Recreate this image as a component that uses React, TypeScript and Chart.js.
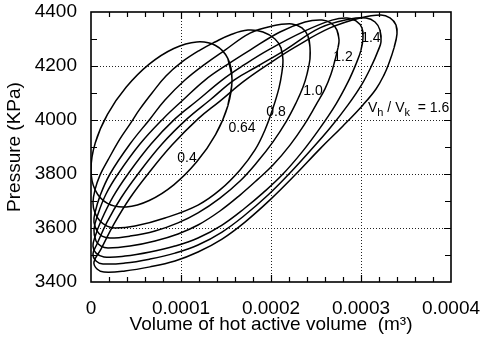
import { useEffect, useRef } from 'react';
import { Chart, registerables } from 'chart.js';

Chart.register(...registerables);

// Volume of hot active volume in units of 1e-4 m^3, pressure in kPa
const VOL_UNIT = 1e-4;
const ratioLabels = ['0.4', '0.64', '0.8', '1.0', '1.2', '1.4', '1.6'];

const v04 = [1.567, 1.52, 1.384, 1.175, 0.92, 0.647, 0.392, 0.183, 0.047, 0, 0.047, 0.183, 0.392, 0.647, 0.92, 1.175, 1.384, 1.52];
const p04 = [4150, 4228, 4276, 4289, 4265, 4207, 4122, 4021, 3915, 3817, 3740, 3691, 3678, 3702, 3760, 3845, 3946, 4052];

const v064 = [2.133, 2.111, 2.044, 1.911, 1.744, 1.544, 1.378, 1.211, 1.011, 0.833, 0.678, 0.544, 0.433, 0.322, 0.189, 0.1, 0.044, 0.022, 0.044, 0.1, 0.178, 0.267, 0.489, 0.822, 1.189, 1.433, 1.656, 1.822, 1.933, 2.022, 2.089, 2.122];
const p064 = [4222, 4267, 4300, 4326, 4333, 4315, 4289, 4259, 4215, 4163, 4100, 4041, 3985, 3930, 3852, 3796, 3741, 3693, 3656, 3626, 3607, 3600, 3607, 3637, 3685, 3741, 3815, 3889, 3963, 4044, 4119, 4178];

const v08 = [2.433, 2.411, 2.344, 2.233, 2.011, 1.767, 1.489, 1.267, 1.044, 0.822, 0.656, 0.433, 0.211, 0.1, 0.044, 0.033, 0.067, 0.122, 0.211, 0.433, 0.711, 0.967, 1.189, 1.433, 1.656, 1.856, 2.022, 2.167, 2.278, 2.356, 2.4, 2.433];
const p08 = [4270, 4311, 4341, 4356, 4348, 4322, 4259, 4207, 4148, 4074, 4004, 3911, 3800, 3719, 3656, 3622, 3589, 3570, 3563, 3570, 3589, 3619, 3656, 3711, 3774, 3848, 3919, 3993, 4063, 4122, 4170, 4226];

const v10 = [2.756, 2.733, 2.667, 2.567, 2.378, 2.1, 1.767, 1.522, 1.267, 1.022, 0.8, 0.544, 0.3, 0.167, 0.078, 0.033, 0.056, 0.111, 0.189, 0.433, 0.711, 0.967, 1.189, 1.433, 1.656, 1.856, 2.022, 2.211, 2.367, 2.5, 2.6, 2.667, 2.711, 2.744];
const p10 = [4296, 4333, 4359, 4370, 4363, 4326, 4259, 4207, 4148, 4074, 4004, 3911, 3800, 3726, 3652, 3593, 3552, 3533, 3526, 3533, 3552, 3578, 3611, 3663, 3722, 3781, 3833, 3907, 3981, 4056, 4115, 4170, 4222, 4267];

const v12 = [3.022, 3.011, 2.944, 2.844, 2.678, 2.378, 1.967, 1.7, 1.456, 1.189, 0.933, 0.667, 0.411, 0.244, 0.111, 0.044, 0.022, 0.056, 0.144, 0.378, 0.656, 0.933, 1.189, 1.456, 1.711, 1.911, 2.122, 2.344, 2.544, 2.722, 2.856, 2.944, 3.0];
const p12 = [4304, 4341, 4367, 4378, 4370, 4330, 4259, 4204, 4148, 4074, 4004, 3911, 3800, 3715, 3626, 3567, 3533, 3507, 3493, 3496, 3511, 3533, 3563, 3611, 3674, 3730, 3796, 3881, 3970, 4059, 4141, 4207, 4259];

const v14 = [3.222, 3.211, 3.156, 3.056, 2.878, 2.544, 2.156, 1.856, 1.589, 1.322, 1.067, 0.789, 0.522, 0.333, 0.178, 0.067, 0.022, 0.056, 0.133, 0.378, 0.656, 0.933, 1.189, 1.456, 1.711, 1.967, 2.189, 2.433, 2.656, 2.856, 3.011, 3.122, 3.189];
const p14 = [4289, 4333, 4363, 4378, 4374, 4341, 4259, 4200, 4148, 4074, 4004, 3911, 3800, 3711, 3622, 3541, 3504, 3478, 3467, 3470, 3485, 3507, 3537, 3585, 3648, 3722, 3796, 3885, 3970, 4056, 4133, 4204, 4256];

const v16 = [3.4, 3.389, 3.322, 3.222, 2.989, 2.656, 2.267, 1.989, 1.7, 1.433, 1.189, 0.9, 0.633, 0.433, 0.256, 0.111, 0.033, 0.067, 0.144, 0.378, 0.656, 0.933, 1.189, 1.456, 1.711, 1.989, 2.267, 2.544, 2.8, 3.022, 3.167, 3.256, 3.311, 3.367];
const p16 = [4319, 4352, 4378, 4389, 4378, 4341, 4270, 4211, 4144, 4070, 4004, 3907, 3800, 3711, 3615, 3522, 3474, 3448, 3437, 3441, 3456, 3478, 3511, 3559, 3622, 3704, 3796, 3893, 3978, 4056, 4115, 4167, 4211, 4267];

const loops = [
  [v04, p04],
  [v064, p064],
  [v08, p08],
  [v10, p10],
  [v12, p12],
  [v14, p14],
  [v16, p16],
];

// curve label anchors (volume 1e-4 m^3, pressure kPa)
const labelV = [1.067, 1.678, 2.056, 2.467, 2.8, 3.11];
const labelP = [3859, 3970, 4030, 4107, 4233, 4304];
const annotV = 3.078;
const annotP = 4030;

const xTicks = [0, 0.0001, 0.0002, 0.0003, 0.0004];
const yTicks = [3400, 3600, 3800, 4000, 4200, 4400];

const FONT = '"Liberation Sans", Arial, Helvetica, sans-serif';

function buildLoop(vs: number[], ps: number[]) {
  const pts = vs.map((v, i) => ({ x: v * VOL_UNIT, y: ps[i] }));
  const n = pts.length;
  return [pts[n - 1], ...pts, pts[0], pts[1]];
}

function zeroPadding(s: any) {
  s.paddingTop = 0;
  s.paddingBottom = 0;
  s.paddingLeft = 0;
  s.paddingRight = 0;
}

const framePlugin = {
  id: 'frame',
  beforeDatasetsDraw(chart: any) {
    const { ctx, chartArea: a, scales } = chart;
    const x = scales.x;
    const y = scales.y;
    ctx.save();
    ctx.strokeStyle = '#222';
    ctx.lineWidth = 1;
    ctx.setLineDash([1, 2]);
    ctx.beginPath();
    for (const v of xTicks.slice(1, -1)) {
      const px = Math.round(x.getPixelForValue(v)) + 0.5;
      ctx.moveTo(px, a.top);
      ctx.lineTo(px, a.bottom);
    }
    for (const v of yTicks.slice(1, -1)) {
      const py = Math.round(y.getPixelForValue(v)) + 0.5;
      ctx.moveTo(a.left, py);
      ctx.lineTo(a.right, py);
    }
    ctx.stroke();
    ctx.setLineDash([]);
    ctx.strokeStyle = '#000';
    ctx.lineWidth = 1.2;
    ctx.beginPath();
    for (let i = 1; i < 20; i++) {
      const px = Math.round(x.getPixelForValue(i * 0.00002)) + 0.5;
      const len = i % 5 === 0 ? 7 : 5;
      ctx.moveTo(px, a.bottom);
      ctx.lineTo(px, a.bottom - len);
      ctx.moveTo(px, a.top);
      ctx.lineTo(px, a.top + len);
    }
    for (let i = 1; i < 10; i++) {
      const py = Math.round(y.getPixelForValue(3400 + i * 100)) + 0.5;
      const len = i % 2 === 0 ? 7 : 6;
      ctx.moveTo(a.left, py);
      ctx.lineTo(a.left + len, py);
      ctx.moveTo(a.right, py);
      ctx.lineTo(a.right - len, py);
    }
    ctx.stroke();
    ctx.lineWidth = 1.6;
    ctx.strokeRect(a.left, a.top, a.right - a.left, a.bottom - a.top);
    ctx.restore();
  },
  afterDatasetsDraw(chart: any) {
    const { ctx, scales } = chart;
    const x = scales.x;
    const y = scales.y;
    ctx.save();
    ctx.fillStyle = '#000';
    ctx.font = `14px ${FONT}`;
    ctx.textAlign = 'center';
    ctx.textBaseline = 'middle';
    labelV.forEach((v, i) => {
      ctx.fillText(ratioLabels[i], x.getPixelForValue(v * VOL_UNIT), y.getPixelForValue(labelP[i]));
    });
    // V_h / V_k = 1.6
    let px = x.getPixelForValue(annotV * VOL_UNIT);
    const py = y.getPixelForValue(annotP);
    ctx.textAlign = 'left';
    ctx.textBaseline = 'alphabetic';
    const part = (t: string, size: number, dy: number) => {
      ctx.font = `${size}px ${FONT}`;
      ctx.fillText(t, px, py + dy);
      px += ctx.measureText(t).width;
    };
    part('V', 14, 0);
    part('h', 11, 4);
    part(' / ', 14, 0);
    part('V', 14, 0);
    part('k', 11, 4);
    part('  = ' + ratioLabels[6], 14, 0);
    ctx.restore();
  },
};

export default function App() {
  const ref = useRef<HTMLCanvasElement>(null);
  useEffect(() => {
    if (!ref.current) return;
    const chart = new Chart(ref.current, {
      type: 'scatter',
      data: {
        datasets: loops.map(([vs, ps], i) => ({
          label: ratioLabels[i],
          data: buildLoop(vs, ps),
          showLine: true,
          borderColor: '#000',
          borderWidth: 1.5,
          pointRadius: 0,
          tension: 0.4,
          fill: false,
        })),
      },
      options: {
        animation: false,
        responsive: false,
        devicePixelRatio: 1,
        layout: { padding: { top: 12, right: 29, left: 0, bottom: 0 } },
        plugins: { legend: { display: false }, tooltip: { enabled: false } },
        scales: {
          x: {
            type: 'linear',
            min: 0,
            max: 0.0004,
            afterBuildTicks: (s: any) => {
              s.ticks = xTicks.map((v) => ({ value: v }));
            },
            afterFit: (s: any) => {
              s.height = 57;
              zeroPadding(s);
            },
            ticks: {
              color: '#000',
              font: { family: FONT, size: 19 },
              padding: 15,
              maxRotation: 0,
              autoSkip: false,
              callback: (v: any) => (Number(v) === 0 ? '0' : Number(v).toFixed(4)),
            },
            grid: { display: false, drawTicks: false },
            border: { display: false },
            title: {
              display: true,
              text: 'Volume of hot active volume  (m³)',
              color: '#000',
              font: { family: FONT, size: 19 },
              padding: { top: 0, bottom: 3 },
            },
          },
          y: {
            type: 'linear',
            min: 3400,
            max: 4400,
            afterBuildTicks: (s: any) => {
              s.ticks = yTicks.map((v) => ({ value: v }));
            },
            afterFit: (s: any) => {
              s.width = 91;
              zeroPadding(s);
            },
            ticks: {
              color: '#000',
              font: { family: FONT, size: 19 },
              padding: 14,
              autoSkip: false,
              callback: (v: any) => String(v),
            },
            grid: { display: false, drawTicks: false },
            border: { display: false },
            title: {
              display: true,
              text: 'Pressure (KPa)',
              color: '#000',
              font: { family: FONT, size: 19 },
              padding: { top: 3, bottom: 0 },
            },
          },
        },
      },
      plugins: [framePlugin],
    });
    return () => chart.destroy();
  }, []);
  return (
    <div style={{ position: 'absolute', left: 0, top: 0, width: 480, height: 339, background: '#fff' }}>
      <canvas ref={ref} width={480} height={339} style={{ display: 'block', width: 480, height: 339 }} />
    </div>
  );
}
